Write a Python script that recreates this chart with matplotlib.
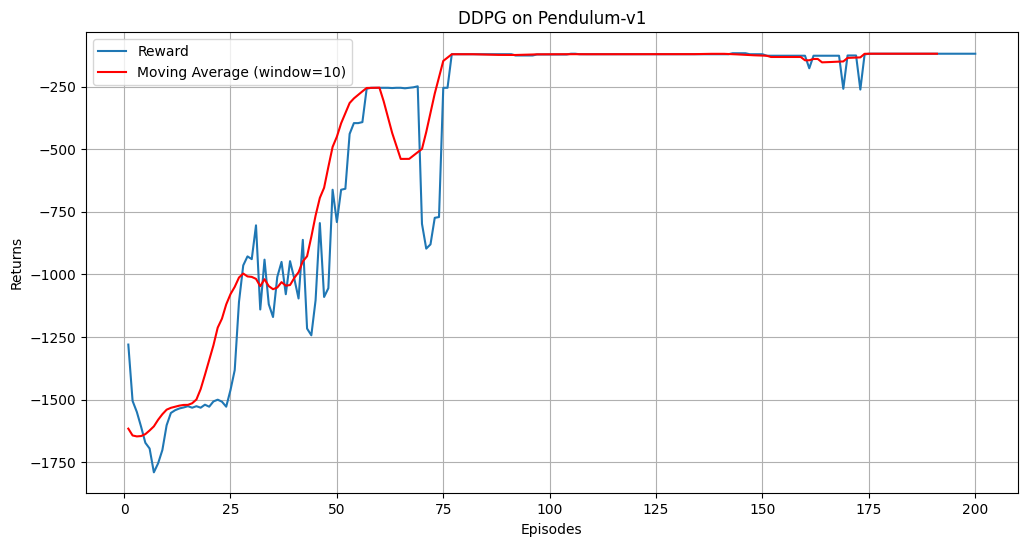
import numpy as np
import matplotlib.pyplot as plt

# --- rewards, episodes 1..200 ---
rewards_1_24 = [-1280, -1505, -1549, -1608, -1672, -1695, -1790, -1754, -1701, -1602,
                -1553, -1542, -1535, -1531, -1526, -1532, -1526, -1532, -1520, -1528,
                -1507, -1500, -1508, -1528]
rewards_25_48 = [-1462, -1382, -1110, -964, -928, -939, -804, -1140, -941, -1119,
                 -1170, -1010, -950, -1079, -947, -1017, -1096, -862, -1216, -1243,
                 -1103, -795, -1090, -1055]
rewards_49_76 = [-662, -791, -662, -658, -439, -396, -396, -392, -259, -255,
                 -255, -255, -255, -255, -256, -255, -255, -257, -255, -253,
                 -249, -798, -897, -880, -774, -771, -255, -255]
rewards_77_150 = ([-121] * 15 + [-126] * 5 + [-122] * 8 + [-119] * 2
                  + [-121] * 36 + [-117] * 4 + [-121] * 4)
rewards_151_200 = ([-127] * 10 + [-177] + [-127] * 7 + [-259] + [-126] * 3
                   + [-262] + [-122] + [-119] * 26)

rewards = np.array(rewards_1_24 + rewards_25_48 + rewards_49_76
                   + rewards_77_150 + rewards_151_200, dtype=float)
episodes = np.arange(1, len(rewards) + 1)

window = 10
moving_avg = np.convolve(rewards, np.ones(window) / window, mode='valid')

fig = plt.figure(figsize=(10.26, 5.47), dpi=100)
ax = fig.add_axes([0.0838, 0.0982, 0.908, 0.8428])

ax.plot(episodes, rewards, label='Reward')
ax.plot(episodes[:len(moving_avg)], moving_avg, color='red',
        label=f'Moving Average (window={window})')

ax.set_title('DDPG on Pendulum-v1')
ax.set_xlabel('Episodes')
ax.set_ylabel('Returns')
ax.legend(loc='upper left')
ax.grid(True)

fig.savefig('out.png', dpi=100)
